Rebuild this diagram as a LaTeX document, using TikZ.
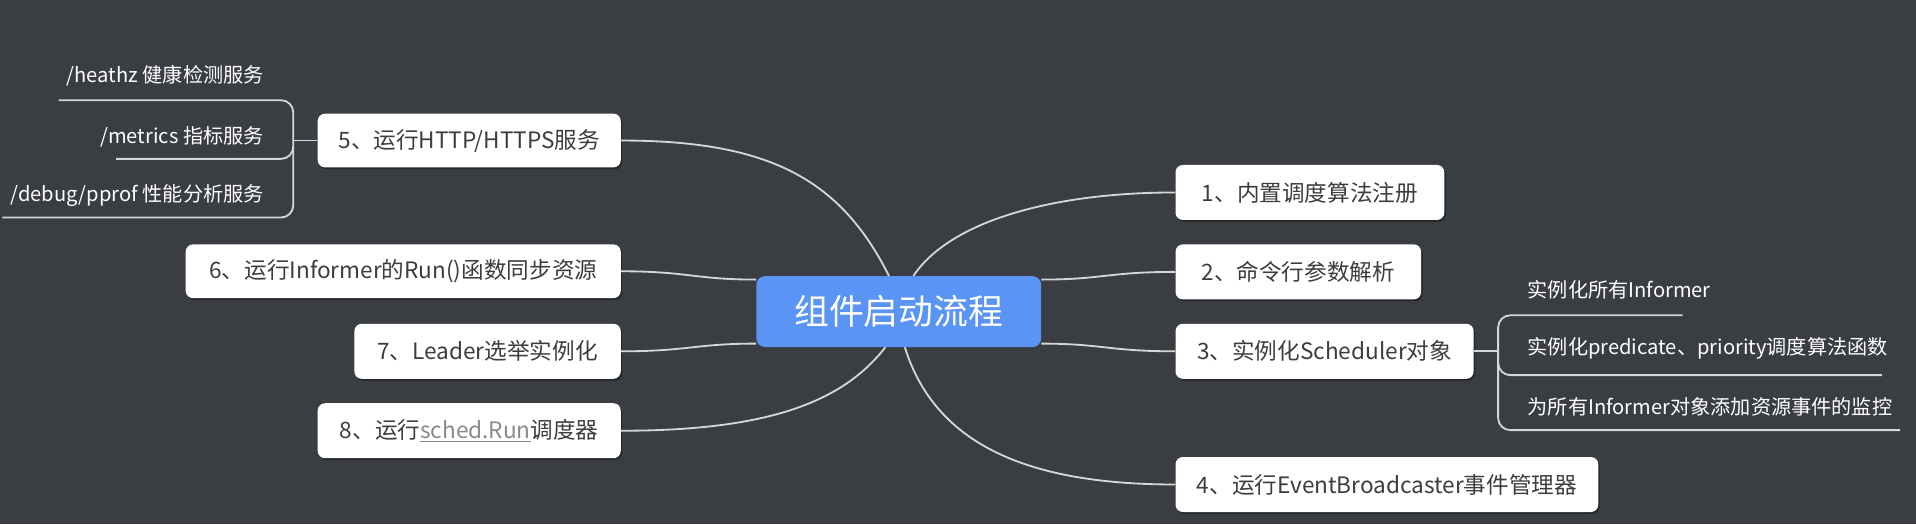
\documentclass[tikz,border=0pt]{standalone}
\usepackage{fontspec}
\newfontfamily\cjk{Noto Sans CJK SC}
\usetikzlibrary{shadows,calc}
\definecolor{bg}{HTML}{3A3D42}
\definecolor{mainblue}{HTML}{5A94F5}
\definecolor{boxtext}{HTML}{3D3D3D}
\definecolor{linkgray}{HTML}{8A8A8A}
\definecolor{linecol}{HTML}{D6D6D6}
\begin{document}
\begin{tikzpicture}[x=1pt,y=1pt,
  box/.style={fill=white, rounded corners=6pt, inner sep=0pt, text=boxtext,
    font=\cjk\fontsize{18.5}{20}\selectfont,
    drop shadow={shadow xshift=1.2pt, shadow yshift=-1.5pt, opacity=0.35, fill=black}},
  centerbox/.style={fill=mainblue, rounded corners=7pt, inner sep=0pt, text=white,
    font=\cjk\fontsize{28.5}{30}\selectfont},
  sub/.style={inner sep=0pt, text=white, font=\cjk\fontsize{16.5}{18}\selectfont},
  link/.style={draw=linecol, line width=1.5pt},
]
\fill[bg] (0,0) rectangle (1568,-429);
\useasboundingbox (0,0) rectangle (1568,-429);

% central node
\node[centerbox, minimum width=233pt, minimum height=58pt] (c) at (735.5,-255) {组件启动流程};

% right boxes
\node[box, minimum width=220pt, minimum height=45pt] (b1) at (1072,-157.5) {1、内置调度算法注册};
\node[box, minimum width=201pt, minimum height=45pt] (b2) at (1062.5,-222.5) {2、命令行参数解析};
\node[box, minimum width=244pt, minimum height=45pt] (b3) at (1084,-287.5) {3、实例化Scheduler对象};
\node[box, minimum width=346pt, minimum height=45pt] (b4) at (1135,-396.5) {4、运行EventBroadcaster事件管理器};

% left boxes
\node[box, minimum width=248pt, minimum height=44pt] (b5) at (384,-115) {5、运行HTTP/HTTPS服务};
\node[box, minimum width=356pt, minimum height=44pt] (b6) at (330,-222) {6、运行Informer的Run()函数同步资源};
\node[box, minimum width=218pt, minimum height=45pt] (b7) at (399,-287.5) {7、Leader选举实例化};
\node[box, minimum width=248pt, minimum height=45pt] (b8) at (384,-352.5) {8、运行\textcolor{linkgray}{\underline{sched.Run}}调度器};

% connectors from centre
\draw[link] (b5.east) .. controls +(120,0) and +(-40,80) .. ($(c.north)+(-8,0)$);
\draw[link] ($(c.north)+(12,0)$) .. controls +(30,45) and +(-100,0) .. (b1.west);
\draw[link] (b6.east) .. controls +(55,0) and +(-50,0) .. ($(c.north west)+(0,-3)$);
\draw[link] (b7.east) .. controls +(55,0) and +(-50,0) .. ($(c.south west)+(0,3)$);
\draw[link] (b8.east) .. controls +(120,0) and +(-35,-45) .. ($(c.south)+(-11,0)$);
\draw[link] ($(c.north east)+(0,-3)$) .. controls +(50,0) and +(-55,0) .. (b2.west);
\draw[link] ($(c.south east)+(0,3)$) .. controls +(50,0) and +(-55,0) .. (b3.west);
\draw[link] ($(c.south)+(5,0)$) .. controls +(25,-80) and +(-120,0) .. (b4.west);

% sub items of 5
\node[sub, anchor=east] (s1) at (216,-62) {/heathz 健康检测服务};
\node[sub, anchor=east] (s2) at (216,-112) {/metrics 指标服务};
\node[sub, anchor=east] (s3) at (216,-160) {/debug/pprof 性能分析服务};
\coordinate (j5) at (240,-115);
\draw[link] (b5.west) -- (j5);
\draw[link, rounded corners=10pt] (48,-82) -- (240,-82) -- (240,-178) -- (2,-178);
\draw[link, rounded corners=10pt] (95,-130) -- (240,-130) -- (240,-120);

% sub items of 3
\node[sub, anchor=west] (r1) at (1250,-237) {实例化所有Informer};
\node[sub, anchor=west] (r2) at (1250,-285) {实例化predicate、priority调度算法函数};
\node[sub, anchor=west] (r3) at (1250,-333) {为所有Informer对象添加资源事件的监控};
\coordinate (j3) at (1226,-287.5);
\draw[link] (b3.east) -- (j3);
\draw[link, rounded corners=10pt] (1377,-258) -- (1226,-258) -- (1226,-352) -- (1555,-352);
\draw[link, rounded corners=10pt] (1540,-307) -- (1226,-307) -- (1226,-297);
\end{tikzpicture}
\end{document}
